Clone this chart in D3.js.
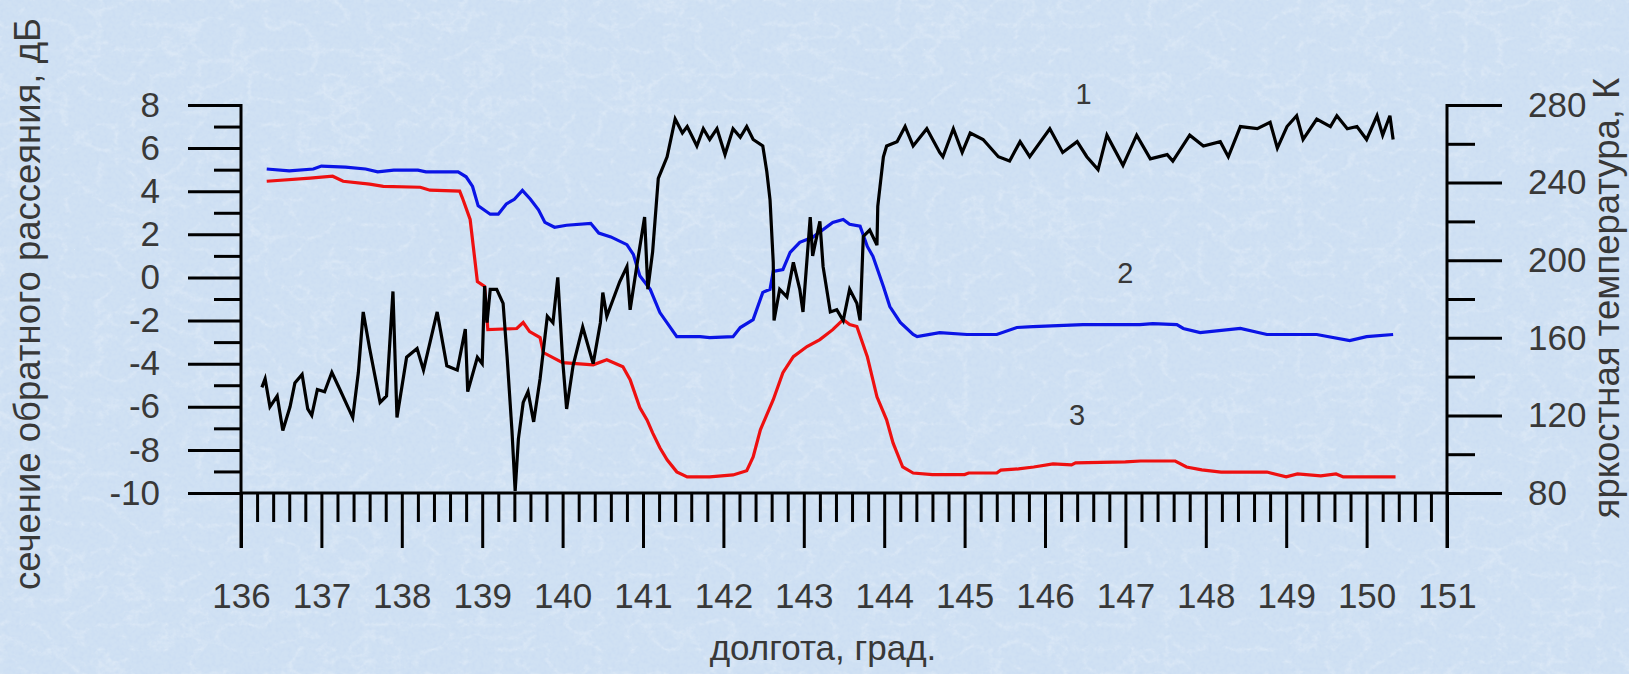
<!DOCTYPE html>
<html>
<head>
<meta charset="utf-8">
<script src="https://cdn.jsdelivr.net/npm/d3@7"></script>
<style>
    html, body { margin: 0; padding: 0; background: #d2e2f3; overflow: hidden; }
    svg text { font-family: 'Liberation Sans', Arial, sans-serif; fill: #383838; }
</style>
</head>
<body>
<div id="chart"></div>
<script>
// Tick values / labels
const lonTicks = [136, 137, 138, 139, 140, 141, 142, 143, 144, 145, 146, 147, 148, 149, 150, 151]
const dbTicks = [-10, -8, -6, -4, -2, 0, 2, 4, 6, 8]
const dbMinorTicks = [-9, -7, -5, -3, -1, 1, 3, 5, 7]
const tbTicks = [80, 120, 160, 200, 240, 280]
const tbMinorTicks = [100, 140, 180, 220, 260]

// Series 1: backscatter, dB (left axis) -- [longitude, value]
const series1 = [
    [136.26, -5.1], [136.3, -4.7], [136.36, -6.0], [136.45, -5.5], [136.52, -7.1], [136.61, -6.0],
    [136.67, -4.9], [136.76, -4.5], [136.83, -6.1], [136.88, -6.4], [136.95, -5.2], [137.04, -5.3],
    [137.13, -4.4], [137.23, -5.2], [137.39, -6.5], [137.46, -4.4], [137.52, -1.6], [137.6, -3.3],
    [137.73, -5.8], [137.81, -5.5], [137.89, -0.65], [137.94, -6.5], [138.06, -3.7], [138.19, -3.3],
    [138.27, -4.3], [138.44, -1.6], [138.56, -4.1], [138.69, -4.3], [138.79, -2.4], [138.82, -5.3],
    [138.94, -3.7], [139.0, -4.0], [139.03, -0.4], [139.06, -2.1], [139.1, -0.55], [139.18, -0.55],
    [139.26, -1.2], [139.31, -3.7], [139.37, -7.1], [139.41, -9.9], [139.45, -7.5], [139.51, -5.8],
    [139.57, -5.3], [139.64, -6.7], [139.72, -4.7], [139.81, -1.8], [139.88, -2.1], [139.94, 0.0],
    [140.0, -3.8], [140.05, -6.1], [140.13, -4.1], [140.25, -2.3], [140.38, -4.0], [140.47, -2.1],
    [140.5, -0.7], [140.55, -1.8], [140.63, -1.0], [140.71, -0.2], [140.8, 0.5], [140.84, -1.5],
    [140.93, 0.7], [141.02, 2.8], [141.06, -0.55], [141.12, 1.2], [141.19, 4.6], [141.3, 5.6],
    [141.4, 7.35], [141.49, 6.7], [141.55, 7.0], [141.67, 6.1], [141.75, 6.9], [141.83, 6.4],
    [141.92, 6.9], [142.02, 5.7], [142.12, 6.9], [142.21, 6.5], [142.29, 7.0], [142.37, 6.4],
    [142.49, 6.1], [142.54, 4.9], [142.58, 3.6], [142.62, 0.7], [142.63, -2.0], [142.7, -0.55],
    [142.79, -0.9], [142.87, 0.7], [142.95, -0.55], [142.99, -1.6], [143.08, 2.8], [143.11, 1.0],
    [143.2, 2.6], [143.24, 0.5], [143.33, -1.6], [143.41, -1.5], [143.49, -2.0], [143.57, -0.55],
    [143.66, -1.2], [143.7, -2.0], [143.74, 1.9], [143.82, 2.2], [143.91, 1.5], [143.92, 3.3],
    [143.99, 5.6], [144.03, 6.1], [144.16, 6.3], [144.26, 7.0], [144.36, 6.1], [144.53, 6.9],
    [144.69, 5.8], [144.73, 5.6], [144.86, 6.9], [144.97, 5.8], [145.07, 6.7], [145.23, 6.4],
    [145.42, 5.6], [145.56, 5.4], [145.69, 6.3], [145.81, 5.6], [146.06, 6.9], [146.22, 5.8],
    [146.4, 6.3], [146.52, 5.6], [146.66, 5.0], [146.77, 6.6], [146.97, 5.2], [147.14, 6.6],
    [147.31, 5.5], [147.52, 5.7], [147.59, 5.4], [147.8, 6.6], [147.97, 6.1], [148.18, 6.3],
    [148.28, 5.6], [148.43, 7.0], [148.64, 6.9], [148.8, 7.2], [148.89, 6.0], [149.01, 7.0],
    [149.13, 7.5], [149.21, 6.4], [149.38, 7.35], [149.55, 7.0], [149.63, 7.5], [149.76, 6.9],
    [149.88, 7.0], [150.0, 6.4], [150.13, 7.5], [150.2, 6.6], [150.29, 7.5], [150.33, 6.4]
]

// Series 2: brightness temperature, K (right axis)
const series2 = [
    [136.32, 247], [136.6, 246], [136.9, 247], [137.0, 248.5], [137.3, 248], [137.55, 247],
    [137.7, 245.5], [137.9, 246.4], [138.2, 246.4], [138.3, 245.5], [138.7, 245.5], [138.8, 243],
    [138.88, 238], [138.95, 228], [139.1, 223.7], [139.2, 223.7], [139.3, 229], [139.4, 231.4],
    [139.5, 236], [139.6, 231.4], [139.7, 226], [139.78, 219.5], [139.9, 217], [140.05, 218],
    [140.35, 219], [140.45, 214], [140.6, 212], [140.8, 208], [140.88, 203], [140.96, 192],
    [141.09, 185], [141.21, 173], [141.42, 160.6], [141.71, 160.6], [141.83, 160.1], [142.12, 160.6],
    [142.21, 165.3], [142.37, 169.4], [142.49, 183.4], [142.58, 185], [142.62, 194.2], [142.74, 195.2],
    [142.83, 204], [142.95, 209.2], [143.11, 211.8], [143.36, 219.5], [143.49, 221], [143.57, 218.5],
    [143.7, 217.5], [143.79, 207.1], [143.86, 202], [143.99, 186.5], [144.07, 176.1], [144.2, 167.9],
    [144.36, 161.7], [144.41, 160.6], [144.69, 162.7], [145.03, 161.7], [145.4, 161.7], [145.65, 165.3],
    [145.85, 165.8], [146.47, 166.8], [147.18, 166.8], [147.34, 167.3], [147.64, 166.8], [147.72, 164.8],
    [147.93, 162.7], [148.43, 164.8], [148.76, 161.7], [149.38, 161.7], [149.79, 158.6], [150.0, 160.6],
    [150.33, 161.7]
]

// Series 3: brightness temperature, K (right axis)
const series3 = [
    [136.32, 240.7], [136.86, 242.3], [137.14, 243.3], [137.27, 240.7], [137.6, 239.2], [137.77, 238.1],
    [138.23, 237.6], [138.35, 236.1], [138.72, 235.6], [138.76, 231.4], [138.85, 221], [138.94, 189],
    [139.03, 186.5], [139.07, 164.2], [139.43, 164.8], [139.51, 167.9], [139.59, 163.2], [139.72, 160.1],
    [139.76, 152.4], [140.0, 147.2], [140.38, 146.1], [140.55, 148.7], [140.75, 145.1], [140.84, 138.4],
    [140.96, 124], [141.05, 117.7], [141.12, 111], [141.21, 103.3], [141.3, 97.1], [141.42, 90.9],
    [141.55, 88.3], [141.83, 88.3], [142.12, 89.3], [142.29, 91.5], [142.37, 98.6], [142.46, 112.6],
    [142.62, 128.1], [142.74, 142], [142.87, 150.3], [143.04, 155.5], [143.2, 159.1], [143.36, 164.2],
    [143.49, 169.4], [143.57, 166.8], [143.66, 165.8], [143.79, 150.3], [143.91, 129.6], [144.03, 117.7],
    [144.11, 105.8], [144.23, 93.4], [144.36, 90.3], [144.6, 89.5], [145.0, 89.5], [145.05, 90.3],
    [145.4, 90.3], [145.45, 91.8], [145.67, 92.4], [145.86, 93.4], [146.1, 95], [146.33, 94.5],
    [146.38, 95.5], [147.0, 96], [147.19, 96.5], [147.62, 96.5], [147.76, 93.4], [147.95, 91.9],
    [148.19, 90.8], [148.76, 90.8], [149.0, 88.3], [149.14, 89.8], [149.43, 88.8], [149.62, 89.8],
    [149.71, 88.3], [150.36, 88.3]
]

const seriesLabels = ['1', '2', '3']

// Layout (page pixels)
const W = 1629
const H = 674
const plot = { left: 241, right: 1447, top: 105, bottom: 493 }
const majorLen = 53
const minorLen = 27
const spineBottom = 548

const svg = d3.select('#chart')
    .append('svg')
    .attr('width', W)
    .attr('height', H)

// Paper-like light blue background
const defs = svg.append('defs')
const paper = defs.append('filter')
    .attr('id', 'paper')
    .attr('x', 0).attr('y', 0).attr('width', '100%').attr('height', '100%')
paper.append('feTurbulence')
    .attr('type', 'turbulence')
    .attr('baseFrequency', '0.03 0.04')
    .attr('numOctaves', 4)
    .attr('seed', 11)
    .attr('result', 'noise')
paper.append('feColorMatrix')
    .attr('in', 'noise')
    .attr('type', 'matrix')
    .attr('values', '0 0 0 0 1  0 0 0 0 1  0 0 0 0 1  -1.0 0 0 0 0.26')

const grain = defs.append('filter')
    .attr('id', 'grain')
    .attr('x', 0).attr('y', 0).attr('width', '100%').attr('height', '100%')
grain.append('feTurbulence')
    .attr('type', 'fractalNoise')
    .attr('baseFrequency', '0.25')
    .attr('numOctaves', 2)
    .attr('seed', 3)
    .attr('result', 'noise')
grain.append('feColorMatrix')
    .attr('in', 'noise')
    .attr('type', 'matrix')
    .attr('values', '0 0 0 0 0.55  0 0 0 0 0.68  0 0 0 0 0.88  0 0 0 0.8 -0.3')

svg.append('rect').attr('width', W).attr('height', H).attr('fill', '#d0e1f3')
svg.append('rect').attr('width', W).attr('height', H).attr('fill', '#fff').attr('filter', 'url(#paper)')
svg.append('rect').attr('width', W).attr('height', H).attr('fill', '#fff').attr('filter', 'url(#grain)')

// Scales
const x = d3.scaleLinear().domain([136, 151]).range([plot.left, plot.right])
const yDb = d3.scaleLinear().domain([-10, 8]).range([plot.bottom, plot.top])
const yTb = d3.scaleLinear().domain([80, 280]).range([plot.bottom, plot.top])

const fontSize = '35px'

function styleAxis(g) {
    g.select('.domain').remove()
    g.selectAll('line').attr('stroke', '#000').attr('stroke-width', 3)
    g.selectAll('text').style('font-size', fontSize)
}

// x axis: minor ticks every 0.2 degree
const lonMinor = d3.range(136, 151.001, 0.2).filter((d) => Math.abs(d - Math.round(d)) > 0.01)
svg.append('g')
    .attr('transform', `translate(0,${plot.bottom})`)
    .call(d3.axisBottom(x).tickValues(lonMinor).tickSize(minorLen + 2).tickFormat(''))
    .call(styleAxis)
svg.append('g')
    .attr('transform', `translate(0,${plot.bottom})`)
    .call(d3.axisBottom(x).tickValues(lonTicks).tickSize(spineBottom - plot.bottom).tickPadding(35).tickFormat((d) => String(d)))
    .call(styleAxis)

// left axis
svg.append('g')
    .attr('transform', `translate(${plot.left},0)`)
    .call(d3.axisLeft(yDb).tickValues(dbMinorTicks).tickSize(minorLen).tickFormat(''))
    .call(styleAxis)
svg.append('g')
    .attr('transform', `translate(${plot.left},0)`)
    .call(d3.axisLeft(yDb).tickValues(dbTicks).tickSize(majorLen).tickPadding(28).tickFormat((d) => String(d)))
    .call(styleAxis)

// right axis
svg.append('g')
    .attr('transform', `translate(${plot.right},0)`)
    .call(d3.axisRight(yTb).tickValues(tbMinorTicks).tickSize(minorLen + 1).tickFormat(''))
    .call(styleAxis)
svg.append('g')
    .attr('transform', `translate(${plot.right},0)`)
    .call(d3.axisRight(yTb).tickValues(tbTicks).tickSize(majorLen + 2).tickPadding(26).tickFormat((d) => String(d)))
    .call(styleAxis)

// spines
const spines = svg.append('g').attr('stroke', '#000').attr('stroke-width', 3)
spines.append('line').attr('x1', plot.left).attr('x2', plot.right).attr('y1', plot.bottom).attr('y2', plot.bottom)
spines.append('line').attr('x1', plot.left).attr('x2', plot.left).attr('y1', plot.top - 1).attr('y2', spineBottom)
spines.append('line').attr('x1', plot.right).attr('x2', plot.right).attr('y1', plot.top - 1).attr('y2', spineBottom)

// lines
const lineDb = d3.line().x((d) => x(d[0])).y((d) => yDb(d[1]))
const lineTb = d3.line().x((d) => x(d[0])).y((d) => yTb(d[1]))

svg.append('path').datum(series2).attr('d', lineTb)
    .attr('fill', 'none').attr('stroke', '#0a14e6').attr('stroke-width', 3.2)
svg.append('path').datum(series3).attr('d', lineTb)
    .attr('fill', 'none').attr('stroke', '#ee1010').attr('stroke-width', 3.2)
svg.append('path').datum(series1).attr('d', lineDb)
    .attr('fill', 'none').attr('stroke', '#000').attr('stroke-width', 3.2).attr('stroke-linejoin', 'miter')

// curve numbers
svg.append('text').attr('x', x(146.48)).attr('y', yDb(8.05)).attr('text-anchor', 'middle')
    .style('font-size', '29px').text(seriesLabels[0])
svg.append('text').attr('x', x(147.0)).attr('y', yTb(188)).attr('text-anchor', 'middle')
    .style('font-size', '29px').text(seriesLabels[1])
svg.append('text').attr('x', x(146.4)).attr('y', yTb(115)).attr('text-anchor', 'middle')
    .style('font-size', '29px').text(seriesLabels[2])

// axis titles
svg.append('text')
    .attr('transform', `translate(40,304) rotate(-90)`)
    .attr('text-anchor', 'middle')
    .style('font-size', '36.5px')
    .text('сечение обратного рассеяния, дБ')
svg.append('text')
    .attr('transform', `translate(1619,298) rotate(-90)`)
    .attr('text-anchor', 'middle')
    .style('font-size', '36.5px')
    .text('яркостная температура, К')
svg.append('text')
    .attr('x', 823)
    .attr('y', 660)
    .attr('text-anchor', 'middle')
    .style('font-size', fontSize)
    .text('долгота, град.')
</script>
</body>
</html>
